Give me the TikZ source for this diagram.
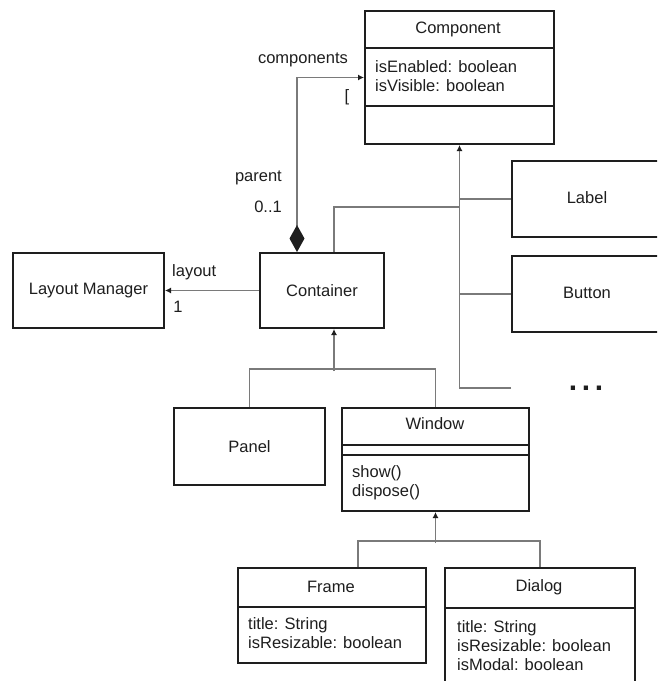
\documentclass[tikz,border=0pt]{standalone}
\usepackage{fontspec}
\setmainfont{Liberation Sans}
\usetikzlibrary{arrows.meta,calc}
\definecolor{ink}{HTML}{1E1E1E}
\definecolor{wire}{HTML}{7A7A7A}
\tikzset{
  cls/.style={draw=ink, line width=2pt, rectangle, anchor=north west, inner sep=0pt},
  conn/.style={draw=wire, line width=1.4pt},
  sepline/.style={draw=ink, line width=1.8pt},
  lbl/.style={text=ink, inner sep=0pt, font=\fontsize{16.5}{19}\selectfont},
  attr/.style={lbl, anchor=west, align=left},
  gen/.style={-{Latex[length=6pt,width=6pt,color=ink]}},
}
\begin{document}
\begin{tikzpicture}[x=1pt,y=-1pt]
\useasboundingbox (0,0) rectangle (657,681);
\clip (0,0) rectangle (657,681);
\fill[white] (0,0) rectangle (657,681);

% class boxes
\node[cls, minimum width=189pt, minimum height=133pt] (comp) at (364,10) {};
\node[cls, minimum width=124pt, minimum height=75pt] (cont) at (259,252) {};
\node[cls, minimum width=151pt, minimum height=75pt] (lm) at (12,252) {};
\node[cls, minimum width=152pt, minimum height=76pt] (label) at (511,160) {};
\node[cls, minimum width=152pt, minimum height=76pt] (button) at (511,255) {};
\node[cls, minimum width=151pt, minimum height=77pt] (panel) at (173,407) {};
\node[cls, minimum width=187pt, minimum height=103pt] (win) at (341,407) {};
\node[cls, minimum width=188pt, minimum height=95pt] (frame) at (237,567) {};
\node[cls, minimum width=190pt, minimum height=130pt] (dialog) at (444,567) {};

% compartments
\draw[sepline] (comp.west |- 0,48) -- (comp.east |- 0,48);
\draw[sepline] (comp.west |- 0,106) -- (comp.east |- 0,106);
\draw[sepline] (win.west |- 0,445) -- (win.east |- 0,445);
\draw[sepline] (win.west |- 0,455) -- (win.east |- 0,455);
\draw[sepline] (frame.west |- 0,607) -- (frame.east |- 0,607);
\draw[sepline] (dialog.west |- 0,608) -- (dialog.east |- 0,608);

% class names and members
\node[lbl] (compname) at (458,29) {Component};
\node[attr] (compattr) at (375,76.5) {isEnabled: boolean\\isVisible: boolean};
\node[lbl] (contname) at (cont.center) {Container};
\node[lbl] (lmname) at (lm.center) {Layout Manager};
\node[lbl] (labelname) at (587,198) {Label};
\node[lbl] (buttonname) at (587,293) {Button};
\node[lbl] (panelname) at (panel.center) {Panel};
\node[lbl] (winname) at (435,424) {Window};
\node[attr] (winops) at (352,483) {show()\\dispose()};
\node[lbl] (framename) at (331,587) {Frame};
\node[attr] (frameattr) at (248,633.5) {title: String\\isResizable: boolean};
\node[lbl] (dialogname) at (539,587) {Dialog};
\node[attr] (dialogattr) at (457,645.5) {title: String\\isResizable: boolean\\isModal: boolean};

% association labels
\node[lbl] (compsrole) at (303,60) {components};
\node[lbl] (compsmult) at (347,97) {[};
\node[lbl, anchor=east] (parentrole) at (282,178) {parent};
\node[lbl, anchor=east] (parentmult) at (282,207) {0..1};
\node[lbl, anchor=west] (layoutrole) at (172,272) {layout};
\node[lbl] (layoutmult) at (178,307) {1};
\node[lbl, font=\bfseries\fontsize{30}{30}\selectfont] (more) at (586,388) {.\hspace{4.7pt}.\hspace{4.7pt}.};

% composition: Container aggregates Components
\draw[conn, {Diamond[length=27pt,width=15pt,color=ink]}-{Latex[length=6pt,width=6pt,color=ink]}]
  ($(cont.north west)+(38,0)$) |- (comp.west);

% association to Layout Manager
\draw[conn, -{Latex[length=6pt,width=6pt,color=ink]}] (cont.west) -- (lm.east);

% generalisation bus under Component
\coordinate (moreend) at (511,388);
\draw[conn, gen] (moreend) -| (comp.south);
\draw[conn] (label.west) -- (label.west -| comp.south);
\draw[conn] (button.west) -- (button.west -| comp.south);
\draw[conn] ($(cont.north west)+(75,0)$) |- (comp.south |- 0,207);

% Panel and Window specialise Container
\draw[conn] (panel.north) -- ++(0,-38) -| (win.north);
\draw[conn, gen] ($(cont.south west)+(75,42)$) -- ($(cont.south west)+(75,0)$);

% Frame and Dialog specialise Window
\draw[conn] ($(frame.north west)+(121,0)$) -- ++(0,-26) -| (dialog.north);
\draw[conn, gen] ($(win.south)+(0,31)$) -- (win.south);
\end{tikzpicture}
\end{document}
